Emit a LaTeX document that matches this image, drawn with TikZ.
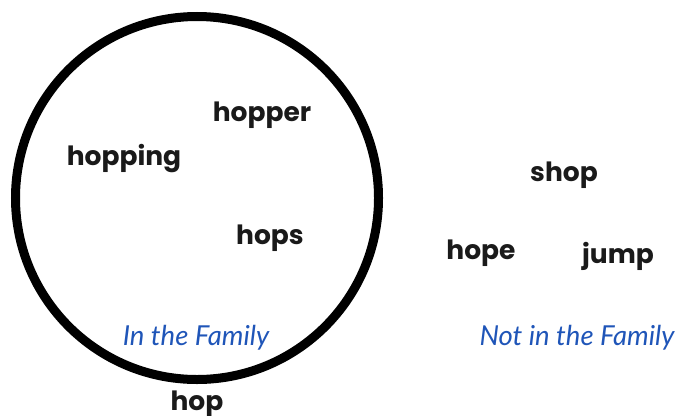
\documentclass[tikz,border=0pt]{standalone}
\usepackage{fontspec}
\newfontfamily\wordfont{Poppins}[UprightFont=* SemiBold, BoldFont=* Bold]
\newfontfamily\handfont{Lato}[UprightFont=* Italic]
\definecolor{handblue}{HTML}{1F55B8}
\definecolor{wordblack}{HTML}{1A1A1A}
\begin{document}
\begin{tikzpicture}[x=1pt,y=-1pt,
  word/.style={font=\wordfont\bfseries\fontsize{26.5}{28}\selectfont, text=wordblack, inner sep=0pt},
  hand/.style={font=\handfont\fontsize{27.5}{30}\selectfont, text=handblue, inner sep=0pt}]
\useasboundingbox (0,0) rectangle (676,415);
\draw[line width=9pt] (197,198) circle[radius=181.5];
\node[word] (hopper) at (262,115) {hopper};
\node[word] (hopping) at (124,159) {hopping};
\node[word] (hops) at (270,238) {hops};
\node[word] (hop) at (197,404) {hop};
\node[word] (shop) at (564,175) {shop};
\node[word] (hope) at (481,253) {hope};
\node[word] (jump) at (618,256) {jump};
\node[hand] (inf) at (196,338) {In the Family};
\node[hand] (notinf) at (577,338) {Not in the Family};
\end{tikzpicture}
\end{document}
